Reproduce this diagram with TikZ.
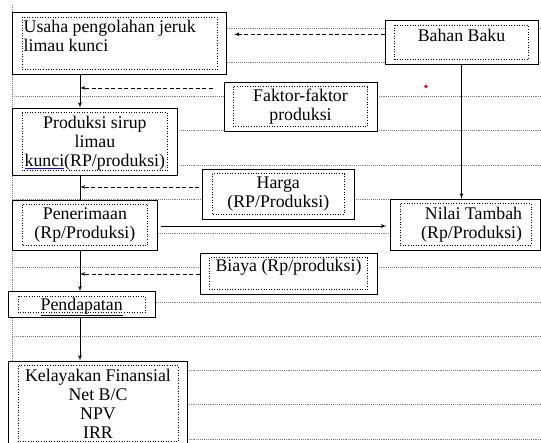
\documentclass[tikz,border=0pt]{standalone}
\usepackage{fontspec}
\setmainfont{Liberation Serif}
\usetikzlibrary{arrows}
\tikzstyle{block} = [draw, fill=white, rectangle, line width=0.8pt,
    inner sep=0pt, align=center]
\tikzstyle{rule} = [gray, densely dotted, line width=0.9pt]
\tikzstyle{flow} = [->, line width=0.8pt]
\tikzstyle{feed} = [->, line width=0.8pt, dash pattern=on 4pt off 2.5pt]
\newcommand{\dotframe}[1]{\draw[dotted, line width=0.6pt]
    ([xshift=10pt,yshift=-5pt]#1.north west) rectangle ([xshift=-10pt,yshift=5pt]#1.south east);}

\begin{document}
\begin{tikzpicture}[x=1pt, y=-1pt, >=latex', font=\fontsize{17.8}{19}\selectfont]
    \useasboundingbox (0,0) rectangle (541,443);
    % ruled page behind the chart
    \foreach \k in {0,...,12}
        \draw[rule] (12,28+34.25*\k) -- (541,28+34.25*\k);
    \draw[rule] (12,5) -- (12,443);
    \node [block, minimum width=214pt, minimum height=61.3pt, align=left,
        text height=31pt, text depth=14pt] (usaha) at (119.7,43.3)
        {\makebox[192pt][l]{Usaha pengolahan jeruk}\\limau kunci};
    \node [block, minimum width=153pt, minimum height=43.3pt,
        text height=12pt, text depth=14pt] (bahan) at (461.5,42.3) {Bahan Baku};
    \node [block, minimum width=153pt, minimum height=49pt] (faktor) at (300.5,106.5) {Faktor-faktor\\produksi};
    \node [block, minimum width=164.3pt, minimum height=67pt, text height=50pt, text depth=0pt] (produksi) at (94.9,141.5)
        {Produksi sirup\\limau\\\textcolor{blue}{\underline{\textcolor{black}{kunci}}}(RP/produksi)};
    \node [block, minimum width=151.3pt, minimum height=50pt] (harga) at (278.3,194) {Harga\\(RP/Produksi)};
    \node [block, minimum width=144.3pt, minimum height=50pt] (penerimaan) at (84.9,225) {Penerimaan\\(Rp/Produksi)};
    \node [block, minimum width=149.8pt, minimum height=51pt, text width=113pt, align=flush right]
        (nilai) at (465.6,224.5) {Nilai Tambah\\(Rp/Produksi)};
    \node [block, minimum width=177pt, minimum height=41pt,
        text height=12pt, text depth=15pt] (biaya) at (288.5,273.5) {Biaya (Rp/produksi)};
    \node [block, minimum width=146.7pt, minimum height=25.3pt, text height=12pt, text depth=0pt]
        (pendapatan) at (81.7,304.3) {\underline{Pendapatan}};
    \node [block, minimum width=179.4pt, minimum height=85pt] (kelayakan) at (98,403.5)
        {Kelayakan Finansial\\Net B/C\\NPV\\IRR};
    \foreach \b in {usaha,bahan,faktor,produksi,harga,penerimaan,nilai,biaya,pendapatan,kelayakan}
        \dotframe{\b}
    % main flow
    \coordinate (spine) at (80,0);
    \draw [flow] (usaha.south -| spine) -- (produksi.north -| spine);
    \draw [line width=0.8pt] (produksi.south -| spine) -- (penerimaan.north -| spine);
    \draw [flow] (penerimaan.south -| spine) -- (pendapatan.north -| spine);
    \draw [flow] (pendapatan.south -| spine) -- (kelayakan.north -| spine);
    \draw [flow] (bahan.south) -- (bahan.south |- nilai.north);
    \draw [flow, shorten <=4pt, shorten >=4pt] ([yshift=-1pt]penerimaan.east) -- ([yshift=-1pt]penerimaan.east -| nilai.west);
    % inputs
    \draw [feed, shorten >=7pt] ([yshift=8pt]bahan.west) -- ([yshift=8pt]bahan.west -| usaha.east);
    \coordinate (f1) at ([xshift=-11pt,yshift=18.5pt]faktor.west);
    \draw [feed] (f1) -- (f1 -| spine);
    \coordinate (f2) at ([xshift=-3pt,yshift=7pt]harga.west);
    \draw [feed] (f2) -- (f2 -| spine);
    \draw [feed] ([yshift=-0.5pt]biaya.west) -- ([yshift=-0.5pt]biaya.west -| spine);
    \fill [red] (426,86.5) circle (1.8pt);
\end{tikzpicture}
\end{document}
